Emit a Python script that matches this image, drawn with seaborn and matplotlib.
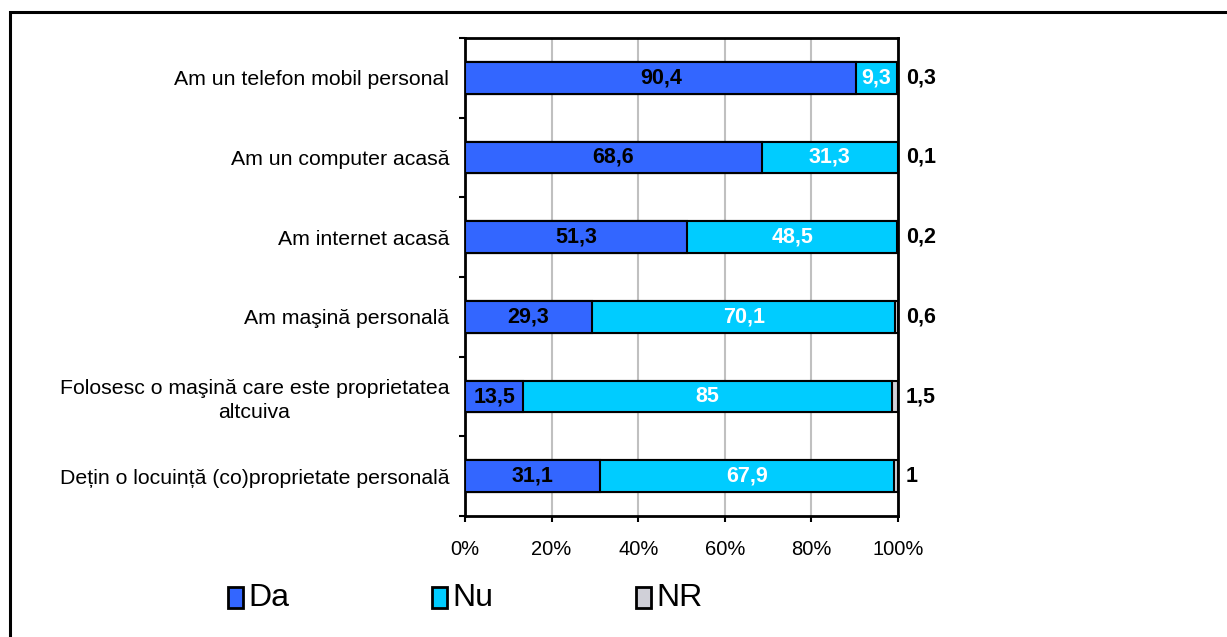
import matplotlib
matplotlib.use("Agg")
import matplotlib.pyplot as plt
import seaborn as sns
import pandas as pd
from matplotlib.patches import Rectangle
from matplotlib.ticker import FixedLocator, FuncFormatter

# data
categories = [
    "Am un telefon mobil personal",
    "Am un computer acasă",
    "Am internet acasă",
    "Am maşină personală",
    "Folosesc o maşină care este proprietatea\naltcuiva",
    "Dețin o locuință (co)proprietate personală",
]
da = [90.4, 68.6, 51.3, 29.3, 13.5, 31.1]
nu = [9.3, 31.3, 48.5, 70.1, 85, 67.9]
nr = [0.3, 0.1, 0.2, 0.6, 1.5, 1]
series_names = ["Da", "Nu", "NR"]
x_ticks = [0, 20, 40, 60, 80, 100]

def fmt(v):
    return ("%g" % v).replace(".", ",")

df = pd.DataFrame({"cat": categories, "Da": da, "Nu": nu, "NR": nr})
df["cum_nu"] = df["Da"] + df["Nu"]
df["cum_nr"] = df["cum_nu"] + df["NR"]

sns.set_style("white", {"text.color": "black", "xtick.color": "black", "ytick.color": "black"})
plt.rcParams["font.family"] = ["Liberation Sans", "DejaVu Sans"]

fig = plt.figure(figsize=(12.27, 6.37), dpi=100)
ax = fig.add_axes([465 / 1227, 1 - 516 / 637, (898 - 465) / 1227, (516 - 38) / 637])

c_da, c_nu, c_nr = "#3366FF", "#00CCFF", "#D0D0D8"
kw = dict(orient="h", width=0.4, edgecolor="black", linewidth=1.5, ax=ax, zorder=3, saturation=1)
sns.barplot(data=df, x="cum_nr", y="cat", color=c_nr, **kw)
sns.barplot(data=df, x="cum_nu", y="cat", color=c_nu, **kw)
sns.barplot(data=df, x="Da", y="cat", color=c_da, **kw)

# value labels
for i, row in df.iterrows():
    ax.text(row["Da"] / 2, i, fmt(row["Da"]), ha="center", va="center",
            fontsize=15.5, fontweight="bold", color="black", zorder=5)
    ax.text(row["Da"] + row["Nu"] / 2, i, fmt(row["Nu"]), ha="center", va="center",
            fontsize=15.5, fontweight="bold", color="white", zorder=5)
    ax.annotate(fmt(row["NR"]), xy=(100, i), xytext=(5.5, 0), textcoords="offset points",
                ha="left", va="center", fontsize=15.5, fontweight="bold", color="black",
                zorder=5, annotation_clip=False)

ax.set_xlim(0, 100)
ax.set_ylim(len(categories) - 0.5, -0.5)
ax.set_xlabel("")
ax.set_ylabel("")
ax.xaxis.set_major_locator(FixedLocator(x_ticks))
ax.xaxis.set_major_formatter(FuncFormatter(lambda v, p: "%d%%" % v))
ax.grid(axis="x", color="#C0C0C0", linewidth=1.5, zorder=0)
ax.grid(axis="y", visible=False)
ax.set_axisbelow(True)

ax.yaxis.set_minor_locator(FixedLocator([i - 0.5 for i in range(len(categories) + 1)]))
ax.tick_params(axis="y", which="major", length=0, pad=11.5, labelsize=15.3)
ax.tick_params(axis="y", which="minor", length=4.5, width=1.5, color="black", direction="out", left=True)
ax.tick_params(axis="x", which="major", length=4.5, width=1.5, color="black", direction="out",
               bottom=True, labelsize=14.5, pad=13)
for lab in ax.get_yticklabels():
    lab.set_multialignment("center")
    lab.set_linespacing(1.3)

for s in ax.spines.values():
    s.set_visible(True)
    s.set_linewidth(2)
    s.set_color("black")

# outer frame
fig.patches.append(Rectangle((10 / 1227, -0.1), 1.2, 1 - 12 / 637 + 0.1, transform=fig.transFigure,
                             fill=False, edgecolor="black", linewidth=2.2))

# legend
leg_x = [228, 432, 636]
for name, col, lx in zip(series_names, (c_da, c_nu, c_nr), leg_x):
    fig.patches.append(Rectangle((lx / 1227, 1 - 608 / 637), 15 / 1227, 21 / 637,
                                 transform=fig.transFigure, facecolor=col,
                                 edgecolor="black", linewidth=2))
    fig.text((lx + 20) / 1227, 1 - 598 / 637, name, ha="left", va="center", fontsize=23,
             family=["Liberation Sans Narrow", "Liberation Sans", "DejaVu Sans"])

fig.savefig("out.png", dpi=100)
